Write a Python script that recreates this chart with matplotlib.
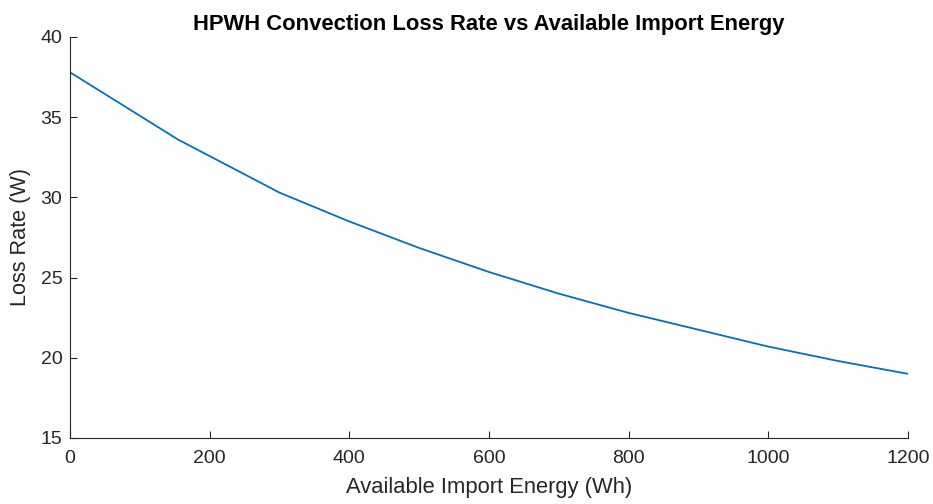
import matplotlib
matplotlib.use("Agg")
import matplotlib.pyplot as plt

# Convection loss rate at each available import energy level
energy_wh = [0, 155, 300, 400, 500, 600, 700, 800, 900, 1000, 1100, 1200]
loss_rate_w = [37.8, 33.6, 30.3, 28.5, 26.85, 25.35, 24.0, 22.8, 21.75, 20.7, 19.8, 19.0]

x_ticks = [0, 200, 400, 600, 800, 1000, 1200]
y_ticks = [15, 20, 25, 30, 35, 40]

plt.rcParams['font.family'] = ['Liberation Sans', 'DejaVu Sans']
axis_color = '#262626'

fig = plt.figure(figsize=(9.33, 5.04), dpi=100)
ax = fig.add_axes([0.075, 0.131, 0.898, 0.7956])

ax.plot(energy_wh, loss_rate_w, color='#0072BD', linewidth=1.3)

ax.set_xlim(0, 1200)
ax.set_ylim(15, 40)
ax.set_xticks(x_ticks)
ax.set_yticks(y_ticks)

# MATLAB-like axes: box off, ticks pointing inward
for side in ['top', 'right']:
    ax.spines[side].set_visible(False)
for side in ['left', 'bottom']:
    ax.spines[side].set_color(axis_color)
    ax.spines[side].set_linewidth(0.8)
ax.tick_params(direction='in', length=5, width=0.8, colors=axis_color,
               labelsize=14)
ax.tick_params(axis='x', pad=8.5)
ax.tick_params(axis='y', pad=5.5)

ax.set_title("HPWH Convection Loss Rate vs Available Import Energy",
             fontsize=15.8, fontweight='bold', color='black', pad=5)
ax.set_xlabel("Available Import Energy (Wh)", fontsize=15.8, color=axis_color, labelpad=7.5)
ax.set_ylabel("Loss Rate (W)", fontsize=15.6, color=axis_color, labelpad=6.5)

fig.savefig("out.png", dpi=100)
